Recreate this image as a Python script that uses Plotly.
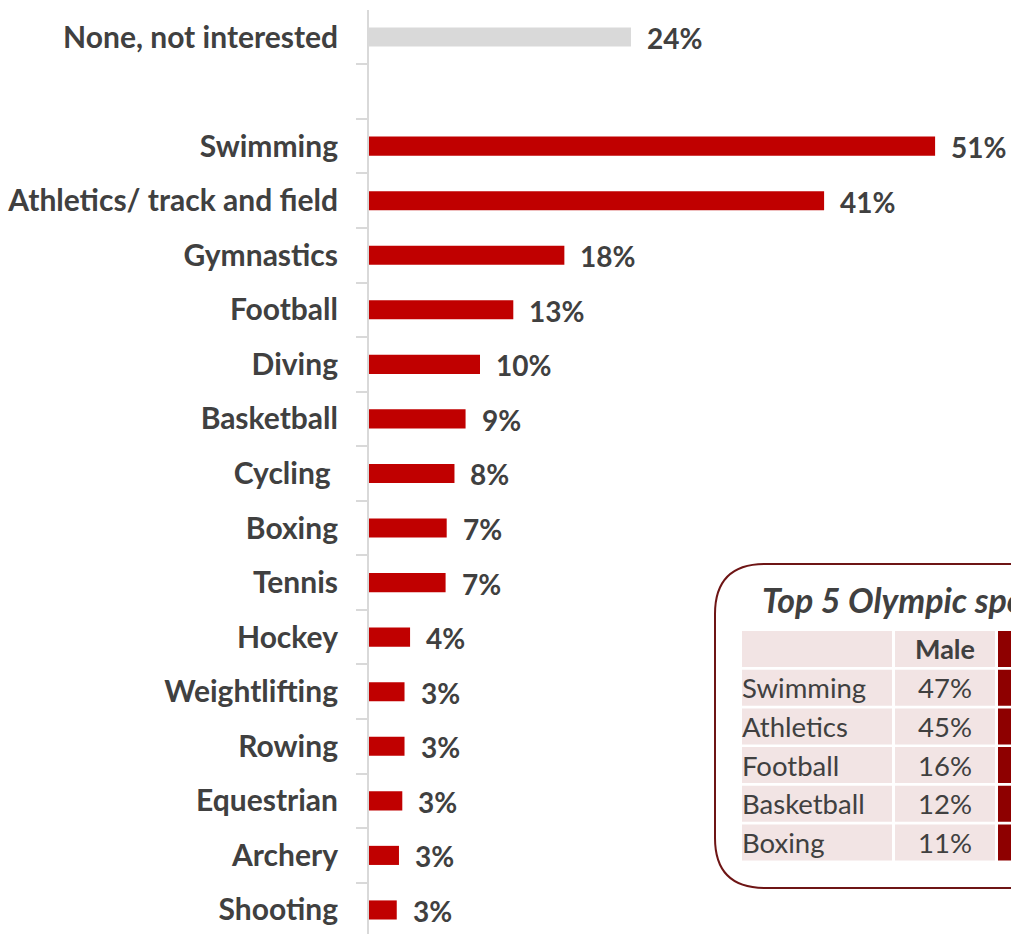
import plotly.graph_objects as go

# ---------------- data ----------------
categories = ["None, not interested", " ", "Swimming", "Athletics/ track and field",
              "Gymnastics", "Football", "Diving", "Basketball", "Cycling\u00a0", "Boxing",
              "Tennis", "Hockey", "Weightlifting", "Rowing", "Equestrian", "Archery", "Shooting"]
values = [23.6, None, 51.0, 41.0, 17.6, 13.0, 10.0, 8.7, 7.7, 7.0, 6.9, 3.7, 3.2, 3.2, 3.0, 2.7, 2.5]
value_labels = ["24%", "", "51%", "41%", "18%", "13%", "10%", "9%", "8%", "7%", "7%",
                "4%", "3%", "3%", "3%", "3%", "3%"]

table_title = "Top 5 Olympic sports by gender"
table_headers = ["", "Male", "Female"]
table_sports = ["Swimming", "Athletics", "Football", "Basketball", "Boxing"]
table_male = ["47%", "45%", "16%", "12%", "11%"]

RED = "#C00000"
GREY = "#D9D9D9"
TXT = "#404040"
FONT = "Lato"

W, H = 1011, 934
L, T = 369, 10

def px(x):
    return (x - L) / (W - L)

def py(y):
    return (H - y) / (H - T)

colors = [GREY if c.startswith("None") else RED for c in categories]

fig = go.Figure()
fig.add_trace(go.Bar(
    x=values, y=categories, orientation="h",
    marker=dict(color=colors, line=dict(width=0)),
    hoverinfo="skip", showlegend=False,
))

annotations = []
for c, v, lab in zip(categories, values, value_labels):
    if v is None:
        continue
    annotations.append(dict(
        x=v, y=c, xref="x", yref="y", text=lab, showarrow=False,
        xanchor="left", yanchor="middle", xshift=14, yshift=-1,
        font=dict(family=FONT, size=28, color=TXT, weight="bold"),
    ))

shapes = []
# rounded box of the inset
bl, bt, bb, br, r = 715, 564, 888, 1400, 50
path = (f"M {px(bl + r)},{py(bt)} L {px(br)},{py(bt)} L {px(br)},{py(bb)} "
        f"L {px(bl + r)},{py(bb)} Q {px(bl)},{py(bb)} {px(bl)},{py(bb - r)} "
        f"L {px(bl)},{py(bt + r)} Q {px(bl)},{py(bt)} {px(bl + r)},{py(bt)} Z")
shapes.append(dict(type="path", path=path, xref="paper", yref="paper",
                   line=dict(color="#6E1515", width=2), fillcolor="white", layer="above"))

# table geometry
col_x = [(742, 892), (895, 995), (998, 1120)]
row_top0, row_h, row_pitch = 631, 36, 38.7
PINK = "#F2E4E4"
DARK = "#8E0000"
n_rows = 1 + len(table_sports)
for ri in range(n_rows):
    y0 = row_top0 + ri * row_pitch
    y1 = y0 + row_h
    for ci, (x0, x1) in enumerate(col_x):
        shapes.append(dict(type="rect", xref="paper", yref="paper",
                           x0=px(x0), x1=px(x1), y0=py(y1), y1=py(y0),
                           fillcolor=DARK if ci == 2 else PINK, line=dict(width=0),
                           layer="above"))

# table title
annotations.append(dict(x=px(760), y=py(599), xref="paper", yref="paper",
                        text=table_title, showarrow=False, xanchor="left", yanchor="middle",
                        font=dict(family=FONT, size=34, color=TXT, weight="bold", style="italic")))
# header
annotations.append(dict(x=px((col_x[1][0] + col_x[1][1]) / 2), y=py(row_top0 + row_h / 2),
                        xref="paper", yref="paper", text=table_headers[1], showarrow=False,
                        xanchor="center", yanchor="middle",
                        font=dict(family=FONT, size=27, color=TXT, weight="bold")))
for i, (s, m) in enumerate(zip(table_sports, table_male)):
    yc = row_top0 + (i + 1) * row_pitch + row_h / 2
    annotations.append(dict(x=px(740), y=py(yc), xref="paper", yref="paper", text=s,
                            showarrow=False, xanchor="left", yanchor="middle",
                            font=dict(family=FONT, size=27.5, color=TXT)))
    annotations.append(dict(x=px((col_x[1][0] + col_x[1][1]) / 2), y=py(yc),
                            xref="paper", yref="paper", text=m, showarrow=False,
                            xanchor="center", yanchor="middle",
                            font=dict(family=FONT, size=27.5, color=TXT)))

slot = 54.56
r_top = -(37 - T) / slot
r_bot = r_top + (H - T) / slot

fig.update_layout(
    width=W, height=H,
    margin=dict(l=L, r=0, t=T, b=0, pad=0),
    paper_bgcolor="white", plot_bgcolor="white",
    bargap=0.65,
    xaxis=dict(range=[0, (W - L) / 11.1], visible=False, showgrid=False, zeroline=False),
    yaxis=dict(type="category", categoryorder="array", categoryarray=categories,
               range=[r_bot, r_top], tickson="boundaries", ticks="outside", ticklen=11,
               tickwidth=2, tickcolor=GREY, showline=True, linecolor=GREY, linewidth=2,
               showgrid=False, zeroline=False, ticklabelstandoff=23,
               tickfont=dict(family=FONT, size=30, color=TXT, weight="bold")),
    shapes=shapes, annotations=annotations,
)

fig.write_html("out.html")
